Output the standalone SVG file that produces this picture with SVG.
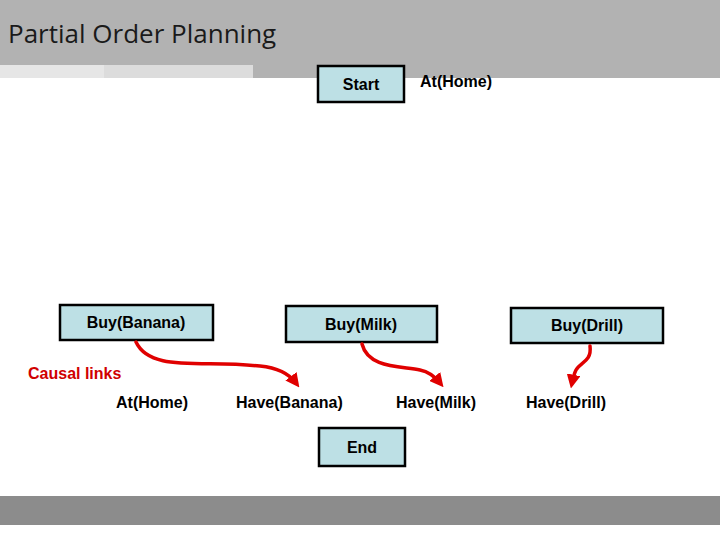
<svg xmlns="http://www.w3.org/2000/svg" width="720" height="540" viewBox="0 0 720 540">
<style>
.box{fill:#bde0e5;stroke:#000;stroke-width:2.5}
.t{font-family:"Liberation Sans",Arial,sans-serif;font-weight:bold;font-size:16px;fill:#000}
.c{fill:none;stroke:#e00000;stroke-width:3.5;stroke-linecap:round}
</style>
<defs><marker id="ah" viewBox="0 0 10 10" refX="6" refY="5" markerWidth="4" markerHeight="4" orient="auto"><path d="M0,0L10,5L0,10z" fill="#e00000"/></marker></defs>
<rect width="720" height="540" fill="#fff"/>
<rect x="0" y="0" width="720" height="78" fill="#b2b2b2"/>
<rect x="0" y="65" width="104" height="13" fill="#e6e6e6"/>
<rect x="104" y="65" width="149" height="13" fill="#dcdcdc"/>
<rect x="0" y="78" width="720" height="1" fill="#fff"/>
<text x="8" y="43" font-family="Open Sans,DejaVu Sans,sans-serif" font-size="26" fill="#1a1a1a">Partial Order Planning</text>
<rect x="0" y="496" width="720" height="29" fill="#8c8c8c"/>
<g id="start"><rect class="box" x="318" y="66" width="86" height="36"/><text class="t" x="361" y="90" text-anchor="middle">Start</text></g>
<g id="athome1"><text class="t" x="420" y="87">At(Home)</text></g>
<g id="buybanana"><rect class="box" x="60" y="305" width="153" height="35"/><text class="t" x="136" y="328" text-anchor="middle">Buy(Banana)</text></g>
<g id="buymilk"><rect class="box" x="286" y="306" width="151" height="36"/><text class="t" x="361" y="330" text-anchor="middle">Buy(Milk)</text></g>
<g id="buydrill"><rect class="box" x="511" y="308" width="152" height="35"/><text class="t" x="587" y="331" text-anchor="middle">Buy(Drill)</text></g>
<g id="end"><rect class="box" x="319" y="428" width="86" height="38"/><text class="t" x="362" y="453" text-anchor="middle">End</text></g>
<g id="labels">
<text class="t" x="28" y="379" fill="#d00000" style="fill:#d00000">Causal links</text>
<text class="t" x="116" y="408">At(Home)</text>
<text class="t" x="236" y="408">Have(Banana)</text>
<text class="t" x="396" y="408">Have(Milk)</text>
<text class="t" x="526" y="408">Have(Drill)</text>
</g>
<g id="connectors">
<path class="c" marker-end="url(#ah)" d="M136,342 C150,372 200,360 260,366 C280,368 290,375 296,383"/>
<path class="c" marker-end="url(#ah)" d="M362,344 C368,368 400,366 420,370 C430,372 436,378 440,383"/>
<path class="c" marker-end="url(#ah)" d="M590,346 C592,362 580,362 576,370 C574,374 573,378 572,383"/>
</g>
</svg>
